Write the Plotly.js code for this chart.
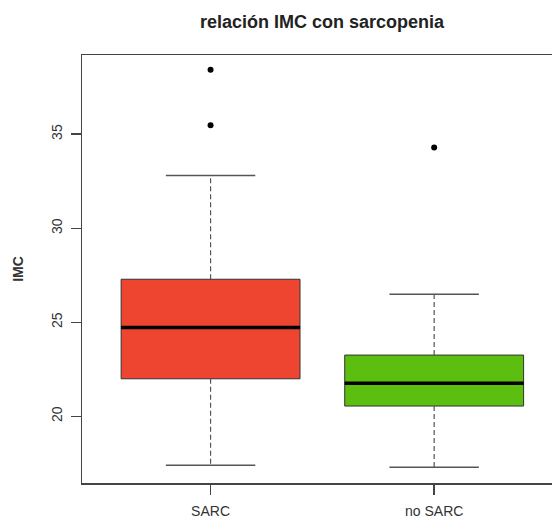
<!DOCTYPE html>
<html>
<head>
<meta charset="utf-8">
<script src="https://cdn.plot.ly/plotly-3.0.1.min.js"></script>
<style>html,body{margin:0;padding:0;background:#fff;}</style>
</head>
<body>
<div id="chart" style="width:552px;height:518px;"></div>
<script>
// ---- data ----
const categories = ['SARC', 'no SARC'];
const lowerWhisker = [17.4, 17.3];
const q1 = [22.0, 20.55];
const median = [24.72, 21.76];
const q3 = [27.29, 23.26];
const upperWhisker = [32.8, 26.49];
const outliers = [[38.42, 35.48], [34.29]];
const boxColors = ['#EE4530', '#5CBF0F'];
const yTicks = [20, 25, 30, 35];

// ---- styling constants ----
const BOX_W = 0.8;
const CAP_W = BOX_W / 2;
const FONT = 'Liberation Sans, Arial, sans-serif';

const traces = [];
categories.forEach((cat, i) => {
  const pos = i + 1;
  traces.push({
    type: 'box', x: [pos], q1: [q1[i]], median: [median[i]], q3: [q3[i]],
    lowerfence: [q1[i]], upperfence: [q3[i]], width: BOX_W, whiskerwidth: 0,
    boxpoints: false, fillcolor: boxColors[i], line: {color: '#333', width: 1},
    hoverinfo: 'skip', showlegend: false
  });
  // dashed whiskers
  traces.push({
    type: 'scatter', mode: 'lines', showlegend: false, hoverinfo: 'skip',
    x: [pos, pos, null, pos, pos],
    y: [q3[i], upperWhisker[i], null, q1[i], lowerWhisker[i]],
    line: {color: '#555', width: 1.2, dash: '5px,3px'}
  });
  // staples
  traces.push({
    type: 'scatter', mode: 'lines', showlegend: false, hoverinfo: 'skip',
    x: [pos - CAP_W / 2, pos + CAP_W / 2, null, pos - CAP_W / 2, pos + CAP_W / 2],
    y: [upperWhisker[i], upperWhisker[i], null, lowerWhisker[i], lowerWhisker[i]],
    line: {color: '#555', width: 1.5}
  });
  // thick median
  traces.push({
    type: 'scatter', mode: 'lines', showlegend: false, hoverinfo: 'skip',
    x: [pos - BOX_W / 2, pos + BOX_W / 2], y: [median[i], median[i]],
    line: {color: '#000', width: 3.5}
  });
  // outliers
  traces.push({
    type: 'scatter', mode: 'markers', showlegend: false, hoverinfo: 'skip',
    x: outliers[i].map(() => pos), y: outliers[i],
    marker: {color: '#000', size: 6, symbol: 'circle'}
  });
});

const layout = {
  width: 552, height: 518,
  margin: {l: 82, r: 0, t: 55, b: 35},
  paper_bgcolor: '#fff', plot_bgcolor: '#fff',
  font: {family: FONT, color: '#333', size: 14},
  title: {
    text: '<b>relación IMC con sarcopenia</b>',
    font: {family: FONT, size: 18, color: '#222'},
    x: 322 / 552, xref: 'container', xanchor: 'center',
    y: 1 - 22 / 518, yref: 'container', yanchor: 'middle'
  },
  xaxis: {
    range: [0.425, 2.527], tickvals: [1, 2], ticktext: categories,
    ticks: 'outside', ticklen: 10, tickcolor: '#444', tickwidth: 1.5,
    showline: true, linecolor: '#444', linewidth: 1.5, mirror: true,
    showgrid: false, zeroline: false, fixedrange: true,
    ticklabelstandoff: 5,
    tickfont: {family: FONT, size: 14, color: '#333'}
  },
  yaxis: {
    range: [16.46, 39.21], tickvals: yTicks, ticktext: yTicks.map(String),
    tickangle: -90,
    ticks: 'outside', ticklen: 10, tickcolor: '#444', tickwidth: 1.5,
    showline: true, linecolor: '#444', linewidth: 1.5,
    showgrid: false, zeroline: false, fixedrange: true,
    ticklabelstandoff: 3,
    tickfont: {family: FONT, size: 14, color: '#333'},
    title: {text: '<b>IMC</b>', font: {family: FONT, size: 14, color: '#333'}, standoff: 22}
  }
};

Plotly.newPlot('chart', traces, layout, {displayModeBar: false, staticPlot: true});
</script>
</body>
</html>
